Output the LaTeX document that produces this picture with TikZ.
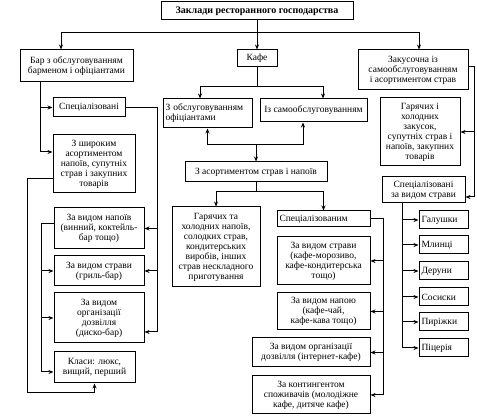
\documentclass[tikz,border=0pt]{standalone}
\usepackage{fontspec}
\setmainfont{Liberation Serif}
\usetikzlibrary{arrows.meta, positioning}

\begin{document}
\begin{tikzpicture}[x=1pt, y=-1pt, >={Stealth[length=5pt,width=4pt]},
    font=\fontsize{9.5}{10}\selectfont,
    box/.style={draw, line width=1pt, rectangle, align=center, inner sep=1pt},
    lbox/.style={box, align=left, inner sep=2.5pt},
    link/.style={line width=1pt}]
    \useasboundingbox (0,0) rectangle (477,419);

    % top level
    \node[box, minimum width=192pt, minimum height=18pt] (top) at (257,11) {\fontsize{10}{10}\selectfont\textbf{Заклади ресторанного господарства}};
    \node[box, minimum width=113pt, minimum height=32pt] (bar) at (76.5,66) {Бар з обслуговуванням\\барменом і офіціантами};
    \node[box, minimum width=40pt, minimum height=17pt] (cafe) at (257,58.5) {Кафе};
    \node[box, minimum width=110pt, minimum height=40pt] (zak) at (413,70) {Закусочна із\\самообслуговуванням\\і асортиментом страв};

    % bar
    \node[box, minimum width=72pt, minimum height=19pt] (barspec) at (89,107.5) {Спеціалізовані};
    \node[box, minimum width=82pt, minimum height=58pt] (barwide) at (94,164) {З широким\\асортиментом\\напоїв, супутніх\\страв і закупних\\товарів};
    \node[box, minimum width=90pt, minimum height=41pt] (barnap) at (99,228.5) {За видом напоїв\\(винний, коктейль-\\бар тощо)};
    \node[box, minimum width=90pt, minimum height=30pt] (barstr) at (99,271) {За видом страви\\(гриль-бар)};
    \node[box, minimum width=90pt, minimum height=50pt] (barorg) at (99,318) {За видом\\організації\\дозвілля\\(диско-бар)};
    \node[box, minimum width=81pt, minimum height=31pt] (barcls) at (94.5,367.5) {Класи: люкс,\\вищий, перший};

    % cafe
    \node[lbox, text width=84pt, minimum width=88pt, minimum height=29pt] (cafeserv) at (207.5,113.5) {З обслуговуванням\\офіціантами};
    \node[box, minimum width=107pt, minimum height=23pt] (cafeself) at (313.5,110.5) {Із самообслуговуванням};
    \node[box, minimum width=142pt, minimum height=20pt] (cafeas) at (256,172) {З асортиментом страв і напоїв};
    \node[box, minimum width=88pt, minimum height=80pt] (cafehot) at (216,247) {Гарячих та\\холодних напоїв,\\солодких страв,\\кондитерських\\виробів, інших\\страв нескладного\\приготування};
    \node[lbox, text width=88pt, minimum width=93pt, minimum height=16pt] (cafespec) at (323.5,219) {Спеціалізованим};
    \node[box, minimum width=93pt, minimum height=48pt] (cafedish) at (323.5,261) {За видом страви\\(кафе-морозиво,\\кафе-кондитерська\\тощо)};
    \node[box, minimum width=93pt, minimum height=37pt] (cafedrink) at (323.5,311.5) {За видом напою\\(кафе-чай,\\кафе-кава тощо)};
    \node[box, minimum width=118pt, minimum height=29pt] (cafeorg) at (311,352.5) {За видом організації\\дозвілля (інтернет-кафе)};
    \node[box, minimum width=118pt, minimum height=38pt] (cafecont) at (311,395) {За контингентом\\споживачів (молодіжне\\кафе, дитяче кафе)};

    % snack bar
    \node[box, minimum width=80pt, minimum height=68pt] (zakhot) at (420,132) {Гарячих і\\холодних\\закусок,\\супутніх страв і\\напоїв, закупних\\товарів};
    \node[box, minimum width=83pt, minimum height=26pt] (zakspec) at (423.5,190) {Спеціалізовані\\за видом страви};

    % junctions
    \coordinate (tj) at (257,33);
    \coordinate (cj) at (257,87);
    \coordinate (aj) at (256,145);
    \coordinate (kj) at (256,192);
    \coordinate (cs) at (383,395);
    \coordinate (zr) at (474,197);
    \coordinate (zs) at (402,203);
    \coordinate (bj) at (40,152);
    \coordinate (bs) at (157,332);
    \coordinate (bn) at (41,372);
    \coordinate (bw) at (27,393);

    \draw[link] (top.south) -- (tj);
    \draw[link,->] (tj) -| ([xshift=-15.5pt]bar.north);
    \draw[link,->] (tj) -| ([xshift=6pt]zak.north);
    \draw[link,->] (tj) -- (cafe.north);

    % cafe links
    \draw[link] (cafe.south) -- (cj);
    \draw[link,->] (cj) -| ([xshift=-7.5pt]cafeserv.north);
    \draw[link,->] (cj) -| ([xshift=9.5pt]cafeself.north);
    \draw[link,->] (aj) -| (cafeserv.south);
    \draw[link,->] (aj) -| ([xshift=-10.5pt]cafeself.south);
    \draw[link,->] (aj) -- (cafeas.north);
    \draw[link] (cafeas.south) -- (kj);
    \draw[link,->] (kj) -| (cafehot.north);
    \draw[link,->] (kj) -| (cafespec.north);
    \draw[link,->] (cafespec.east) -| (cs) -- (cafecont.east);
    \draw[link,->] (cs |- cafedish.east) -- (cafedish.east);
    \draw[link,->] (cs |- cafedrink.east) -- (cafedrink.east);
    \draw[link,->] (cs |- cafeorg.east) -- (cafeorg.east);

    % snack bar links
    \draw[link,->] ([yshift=3pt]zak.east) -| (zr) -- ([yshift=-7pt]zakspec.east);
    \draw[link,->] (zr |- zakhot.east) -- (zakhot.east);
    \draw[link] (zs) -- (zs |- 0,348);
    \foreach \nm/\txt/\yy in {gal/Галушки/220, mln/Млинці/245, der/Деруни/271,
                              sos/Сосиски/297, pir/Пиріжки/322, piz/Піцерія/348} {
        \node[lbox, text width=44pt, minimum width=49pt, minimum height=18pt] (\nm) at (443.5,\yy) {\txt};
        \draw[link,->] (zs |- \nm.west) -- (\nm.west);
    }

    % bar links
    \draw[link] ([xshift=-36.5pt]bar.south) -- (bj);
    \draw[link,->] (bj) -- ([yshift=12pt]barwide.west);
    \draw[link,->] (bj |- barspec.west) -- (barspec.west);
    \draw[link,->] (barspec.east) -| (bs) -- ([yshift=-14pt]barorg.east);
    \draw[link,->] (bs |- barnap.east) -- (barnap.east);
    \draw[link,->] (bs |- barstr.east) -- (barstr.east);
    \draw[link,->] ([yshift=5pt]barnap.west) -| (bn) -- ([yshift=-4.5pt]barcls.west);
    \draw[link,->] (bn |- barstr.west) -- (barstr.west);
    \draw[link,->] (bn |- barorg.west) -- (barorg.west);
    \draw[link,->] ([yshift=-15pt]barwide.west) -| (bw) -| (barcls.south);
\end{tikzpicture}
\end{document}
